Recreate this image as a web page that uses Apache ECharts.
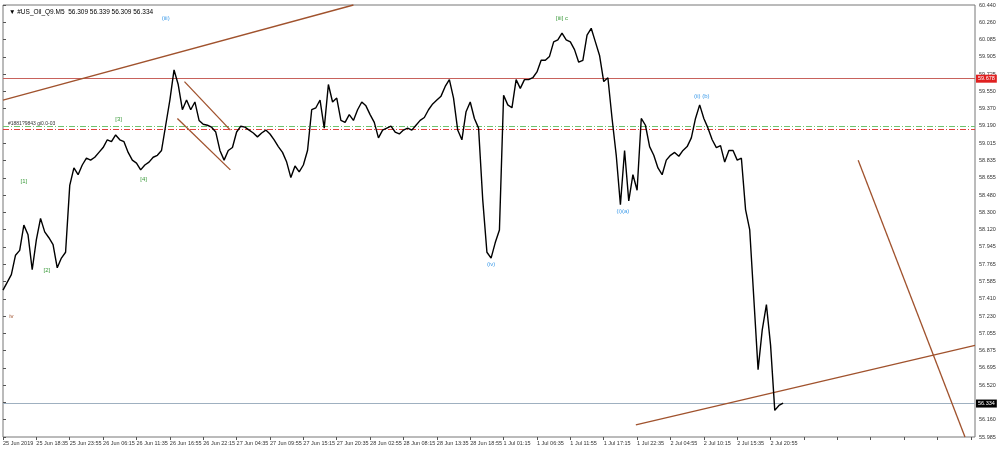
<!DOCTYPE html>
<html><head><meta charset="utf-8">
<script src="https://cdn.jsdelivr.net/npm/echarts@6/dist/echarts.min.js"></script>
<style>html,body{margin:0;padding:0;background:#fff}#c{width:1000px;height:449px}</style>
</head><body><div id="c"></div>
<script>
const title = '\u25BC #US_Oil_Q9.M5  56.309 56.339 56.309 56.334';
const timeLabels = ['25 Jun 2019','25 Jun 18:35','25 Jun 23:55','26 Jun 06:15','26 Jun 11:35','26 Jun 16:55','26 Jun 22:15','27 Jun 04:35','27 Jun 09:55','27 Jun 15:15','27 Jun 20:35','28 Jun 02:55','28 Jun 08:15','28 Jun 13:35','28 Jun 18:55','1 Jul 01:15','1 Jul 06:35','1 Jul 11:55','1 Jul 17:15','1 Jul 22:35','2 Jul 04:55','2 Jul 10:15','2 Jul 15:35','2 Jul 20:55'];
const priceLabels = ['55.985','56.160','56.340','56.520','56.695','56.875','57.055','57.230','57.410','57.585','57.765','57.945','58.120','58.300','58.480','58.655','58.835','59.015','59.190','59.370','59.550','59.725','59.905','60.085','60.260','60.440'];
const closes = [57.50,57.58,57.66,57.86,57.91,58.17,58.07,57.71,58.02,58.24,58.10,58.04,57.97,57.73,57.83,57.89,58.58,58.76,58.69,58.79,
58.86,58.84,58.87,58.92,58.97,59.05,59.03,59.10,59.05,59.03,58.92,58.84,58.81,58.74,58.79,58.82,58.87,58.89,58.94,59.20,
59.46,59.77,59.62,59.36,59.46,59.36,59.44,59.25,59.21,59.20,59.18,59.13,58.94,58.84,58.94,58.97,59.13,59.19,59.18,59.15,
59.12,59.08,59.12,59.15,59.11,59.05,58.98,58.92,58.82,58.66,58.78,58.72,58.79,58.94,59.36,59.38,59.46,59.17,59.62,59.44,
59.48,59.25,59.23,59.31,59.25,59.36,59.44,59.40,59.31,59.23,59.07,59.15,59.17,59.19,59.13,59.11,59.15,59.17,59.15,59.20,
59.25,59.28,59.36,59.42,59.46,59.50,59.60,59.67,59.48,59.15,59.05,59.34,59.44,59.27,59.17,58.43,57.89,57.83,57.99,58.12,
59.51,59.41,59.38,59.67,59.58,59.67,59.67,59.69,59.75,59.87,59.87,59.91,60.06,60.08,60.15,60.08,60.06,59.98,59.85,59.87,
60.13,60.20,60.06,59.92,59.65,59.69,59.27,58.89,58.38,58.94,58.42,58.69,58.53,59.27,59.20,58.98,58.89,58.76,58.69,58.84,
58.89,58.92,58.88,58.94,58.98,59.07,59.27,59.41,59.27,59.17,59.05,58.97,58.99,58.82,58.94,58.94,58.84,58.86,58.33,58.12,
57.40,56.68,57.09,57.35,56.93,56.26,56.31,56.334];
const resistance = 59.678, lastPrice = 56.334, fibGreen = 59.19, fibRed = 59.16;
const waveLabels = [
  {t:'(iii)', i:39, p:60.30, c:'#3d9be9'},
  {t:'[1]', i:5, p:58.62, c:'#3a9a3a'},
  {t:'[2]', i:10.5, p:57.70, c:'#3a9a3a'},
  {t:'[3]', i:27.7, p:59.26, c:'#3a9a3a'},
  {t:'[4]', i:33.7, p:58.64, c:'#3a9a3a'},
  {t:'iv', i:2, p:57.23, c:'#a0522d'},
  {t:'(iv)', i:117, p:57.77, c:'#3d9be9'},
  {t:'[iii] c', i:134, p:60.30, c:'#3a9a3a'},
  {t:'(i)(a)', i:148.6, p:58.31, c:'#3d9be9'},
  {t:'(ii) (b)', i:167.5, p:59.50, c:'#3d9be9'}
];
const trendLines = [
  [[0,59.46],[84,60.44]],
  [[151.7,56.11],[233,56.93]],
  [[205,58.84],[230.6,55.985]],
  [[43.5,59.65],[54.5,59.15]],
  [[41.8,59.27],[54.5,58.74]]
];
const YMIN = 55.985, YMAX = 60.44, YINT = (YMAX-YMIN)/25;
const F = 'Liberation Sans';

const chart = echarts.init(document.getElementById('c'));
chart.setOption({
  animation:false,
  backgroundColor:'#fff',
  title:{text:title,left:4,top:4,textStyle:{fontSize:6.5,fontWeight:'normal',color:'#000',fontFamily:F}},
  grid:{left:1,right:25,top:5,bottom:12,show:true,borderColor:'#777',borderWidth:1},
  xAxis:{type:'value',min:0,max:233,interval:8,
    axisLine:{show:false},axisTick:{show:true,length:3,lineStyle:{color:'#555'}},splitLine:{show:false},
    axisLabel:{fontSize:5.5,color:'#333',align:'left',margin:3,showMinLabel:true,showMaxLabel:false,fontFamily:F,hideOverlap:false,
      formatter:v=>timeLabels[Math.round(v/8)]||''}},
  yAxis:{type:'value',position:'right',min:YMIN,max:YMAX,interval:YINT,
    axisLine:{show:false},axisTick:{show:true,length:3,lineStyle:{color:'#555'}},splitLine:{show:false},
    axisLabel:{fontSize:5.5,color:'#333',margin:4,fontFamily:F,
      formatter:v=>priceLabels[Math.round((v-YMIN)/YINT)]||''}},
  series:[
    {type:'line',data:closes.map((p,i)=>[i,p]),symbol:'none',lineStyle:{color:'#000',width:1.4},z:5,
     markLine:{symbol:'none',silent:true,animation:false,data:[
       {yAxis:resistance,lineStyle:{color:'#c8625c',width:1,type:'solid'},
        label:{position:'end',formatter:resistance.toFixed(3),color:'#fff',backgroundColor:'#e02020',fontSize:5.5,padding:[1,2],distance:1}},
       {yAxis:lastPrice,lineStyle:{color:'#9fb0c0',width:1,type:'solid'},
        label:{position:'end',formatter:lastPrice.toFixed(3),color:'#fff',backgroundColor:'#000',fontSize:5.5,padding:[1,2],distance:1}},
       {yAxis:fibGreen,lineStyle:{color:'#6cc46c',width:1,type:[6,2,1,2]},label:{position:'insideStartTop',formatter:'#1881?9843 gi0.0-03',fontSize:5,color:'#333',distance:[5,0]}},
       {yAxis:fibRed,lineStyle:{color:'#e0403a',width:1,type:[6,2,1,2]},label:{show:false}},
       ...trendLines.map(l=>[{coord:l[0],lineStyle:{color:'#a0522d',width:1.3,type:'solid'},label:{show:false}},{coord:l[1]}])
     ]},
     markPoint:{symbol:'circle',symbolSize:0,silent:true,data:waveLabels.map(w=>({coord:[w.i,w.p],
       label:{show:true,formatter:w.t,color:w.c,fontSize:6,fontFamily:F}}))}
    }
  ]
});
</script></body></html>
